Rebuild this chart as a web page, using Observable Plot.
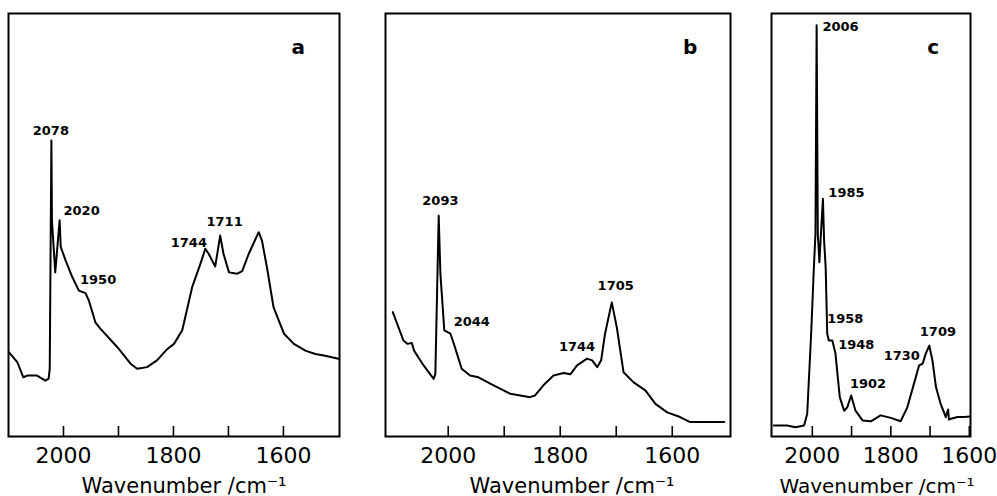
<!DOCTYPE html>
<html><head><meta charset="utf-8">
<script src="https://cdn.jsdelivr.net/npm/d3@7"></script>
<script src="https://cdn.jsdelivr.net/npm/@observablehq/plot@0.6"></script>
<style>
body{margin:0;background:#fff;}
#wrap{position:relative;width:997px;height:496px;overflow:hidden;background:#fff;}
.panel{position:absolute;top:0;}
</style></head><body><div id="wrap"></div>
<script>
// Panel a spectrum
const aWavenumber = [2099,2084,2073,2066,2048,2033,2027,2025,2022,2021,2015,2007,2005,1996,1984,1972,1960,1954,1942,1933,1902,1878,1866,1848,1830,1811,1799,1784,1766,1751,1742,1736,1724,1715,1709,1699,1684,1675,1663,1645,1639,1630,1618,1599,1581,1560,1542,1524,1500];
const aAbsorbance = [0.199,0.176,0.140,0.144,0.144,0.132,0.137,0.16,0.700,0.511,0.388,0.511,0.448,0.416,0.377,0.345,0.339,0.322,0.270,0.255,0.211,0.172,0.160,0.164,0.180,0.207,0.219,0.251,0.353,0.408,0.444,0.432,0.402,0.475,0.432,0.388,0.385,0.391,0.432,0.483,0.463,0.400,0.306,0.243,0.219,0.203,0.195,0.191,0.184];
const aPeakLabels = ["2078","2020","1950","1744","1711"];
const aPeakX = [2023,1967,1937,1772,1707];
const aPeakY = [0.723,0.534,0.370,0.459,0.507];

// Panel b spectrum
const bWavenumber = [2099,2080,2073,2065,2061,2044,2026,2023,2017,2014,2007,1996,1988,1976,1961,1946,1919,1889,1854,1845,1830,1812,1794,1782,1770,1752,1743,1734,1727,1720,1708,1699,1687,1669,1648,1630,1609,1586,1568,1550,1507];
const bAbsorbance = [0.294,0.227,0.219,0.221,0.203,0.168,0.136,0.148,0.522,0.385,0.251,0.243,0.211,0.160,0.144,0.140,0.121,0.101,0.093,0.097,0.121,0.144,0.150,0.147,0.168,0.184,0.180,0.164,0.180,0.243,0.317,0.258,0.152,0.128,0.109,0.077,0.057,0.046,0.034,0.034,0.034];
const bPeakLabels = ["2093","2044","1744","1705"];
const bPeakX = [2014,1958,1770,1701];
const bPeakY = [0.558,0.270,0.211,0.357];

// Panel c spectrum
const cWavenumber = [2098,2064,2043,2021,2013,2003,1996,1992,1989,1986,1982,1979,1973,1970,1966,1962,1958,1949,1941,1936,1930,1919,1911,1901,1890,1872,1851,1826,1800,1775,1758,1741,1728,1719,1711,1702,1694,1685,1673,1660,1654,1652,1647,1630,1613,1598];
const cAbsorbance = [0.026,0.026,0.022,0.026,0.054,0.243,0.400,0.479,0.972,0.479,0.412,0.463,0.562,0.463,0.400,0.243,0.227,0.227,0.196,0.148,0.093,0.061,0.069,0.097,0.061,0.038,0.036,0.050,0.044,0.036,0.069,0.125,0.168,0.172,0.196,0.215,0.180,0.117,0.077,0.046,0.064,0.040,0.042,0.046,0.046,0.047];
const cPeakLabels = ["2006","1985","1958","1948","1902","1730","1709"];
const cPeakX = [1928,1913,1916,1888,1858,1772,1680];
const cPeakY = [0.968,0.575,0.278,0.217,0.125,0.190,0.247];

// Axes
const tickValues = [2000,1900,1800,1700,1600];
const tickLabelValues = [2000,1800,1600];
const panelLetters = ["a","b","c"];
const letterX = [1573,1568,1692];
const letterY = [0.92,0.92,0.92];
const axisTitle = "Wavenumber /cm\u207B\u00B9";

const panels = [
  {wn:aWavenumber, ab:aAbsorbance, labels:aPeakLabels, lx:aPeakX, ly:aPeakY, domain:[2100,1498], left:0, width:349, ml:8, mr:10, titleDx:10, titleSize:21},
  {wn:bWavenumber, ab:bAbsorbance, labels:bPeakLabels, lx:bPeakX, ly:bPeakY, domain:[2112,1496], left:375, width:365, ml:10, mr:10, titleDx:14, titleSize:21},
  {wn:cWavenumber, ab:cAbsorbance, labels:cPeakLabels, lx:cPeakX, ly:cPeakY, domain:[2104,1597], left:761, width:236, ml:10, mr:27, titleDx:6, titleSize:20}
];

const wrap = document.getElementById("wrap");
panels.forEach((p, i) => {
  const spectrum = p.wn.map((w, j) => ({wn: w, ab: p.ab[j]}));
  const peaks = p.labels.map((t, j) => ({t, x: p.lx[j], y: p.ly[j]}));
  const chart = Plot.plot({
    width: p.width, height: 496,
    marginLeft: p.ml, marginRight: p.mr, marginTop: 13, marginBottom: 60,
    x: {domain: p.domain},
    y: {domain: [0, 1], axis: null},
    style: {fontFamily: "DejaVu Sans", background: "white", color: "black", overflow: "visible"},
    marks: [
      Plot.frame({stroke: "black", strokeWidth: 2}),
      Plot.axisX(tickValues, {anchor: "bottom", tickSize: 10, dy: -10, text: null, strokeWidth: 1.6}),
      Plot.axisX(tickLabelValues, {anchor: "bottom", tickSize: 0, tickPadding: 11, fontSize: 22,
        tickFormat: d => String(d), label: null}),
      Plot.line(spectrum, {x: "wn", y: "ab", stroke: "black", strokeWidth: 2, curve: "linear"}),
      Plot.text(peaks, {x: "x", y: "y", text: "t", fontSize: 13, fontWeight: "bold", fill: "black"}),
      Plot.text([panelLetters[i]], {x: () => letterX[i], y: () => letterY[i], text: d => d, fontSize: 20, fontWeight: "bold"}),
      Plot.text([axisTitle], {frameAnchor: "bottom", dy: 56, dx: p.titleDx, text: d => d, fontSize: p.titleSize})
    ]
  });
  chart.classList.add("panel");
  chart.style.left = p.left + "px";
  wrap.appendChild(chart);
});
</script>
</body></html>
